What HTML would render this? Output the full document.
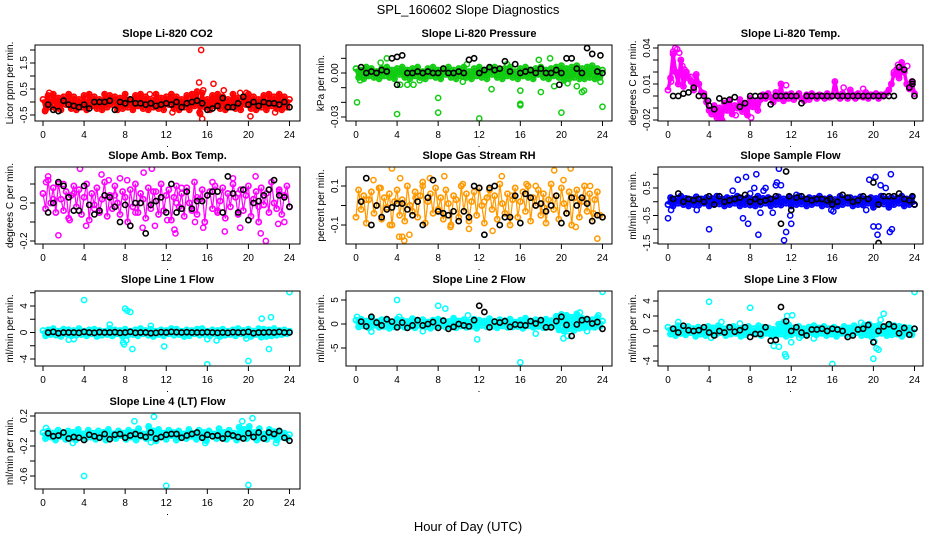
<!DOCTYPE html>
<html><head><meta charset="utf-8">
<style>
html,body{margin:0;padding:0;background:#fff;}
svg{display:block;font-family:"Liberation Sans",Arial,sans-serif;}
</style></head>
<body>
<svg id="chart" width="936" height="540" viewBox="0 0 936 540" xmlns="http://www.w3.org/2000/svg">
<rect x="0" y="0" width="936" height="540" fill="#fff"/>
<text x="468" y="14" text-anchor="middle" font-size="13">SPL_160602  Slope Diagnostics</text>
<text x="468" y="531" text-anchor="middle" font-size="13">Hour of Day (UTC)</text>
</svg>
<script>
// ---- data (hours 0..24) ----
const xTicks = [0,4,8,12,16,20,24];

const p1Color = [0.1,-0.3,0.25,-0.2,0.3,-0.25,0.15,-0.3,0.2,-0.1,0.3,-0.25,0.2,-0.3,0.1,-0.2,0.25,-0.3,0.3,-0.15,0.2,-0.25,0.1,-0.3,0.3,-0.2,0.25,-0.1,0.2,-0.3,0.15,-0.25,0.3,-0.2,0.1,-0.3,0.25,-0.15,0.3,-0.25,0.2,-0.3,0.1,-0.2,0.3,-0.25,0.15,-0.3,0.2,-0.1,0.3,-0.25,0.2,-0.3,0.1,-0.2,0.25,-0.3,0.3,-0.15,0.4,-0.4,0.35,-0.2,0.1,-0.3,0.25,-0.15,0.3,-0.25,0.2,-0.3,0.1,-0.2,0.3,-0.25,0.15,-0.3,0.2,-0.1,0.3,-0.25,0.2,-0.3,0.1,-0.2,0.25,-0.3,0.3,-0.15,0.2,-0.25,0.3,-0.3,0.2,-0.2,0.1];
const p1OutH = [15.4,15.2,16.6,15.6,17.6,20.2,15.5,15.3,12.6,22.6,0.2,19.8,0.6,10.4,19.2];
const p1OutV = [2.0,0.75,0.7,0.45,0.45,-0.55,-0.65,-0.45,-0.4,-0.4,-0.35,0.35,0.35,0.3,0.35];
const p1Black = [-0.1,-0.3,-0.35,0.05,-0.1,-0.15,-0.2,-0.1,-0.25,0.0,0.0,0.0,0.05,-0.3,0.0,-0.05,0.1,-0.05,-0.05,-0.1,-0.05,-0.15,-0.1,-0.05,-0.1,0.0,-0.2,-0.05,0.0,0.05,-0.05,-0.3,-0.25,-0.15,0.15,-0.2,-0.2,-0.05,0.2,-0.1,0.0,-0.15,0.0,-0.05,-0.05,-0.1,0.0,-0.2];

const p2Color = [0.003,-0.003,0.002,-0.004,0.004,-0.002,0.003,-0.003,0.001,-0.004,0.003,-0.002,0.004,-0.003,0.002,-0.004,0.003,-0.001,0.004,-0.003,0.002,-0.004,0.003,-0.002,0.004,-0.003,0.001,-0.004,0.003,-0.002,0.004,-0.003,0.002,-0.004,0.003,-0.001,0.004,-0.003,0.002,-0.004,0.003,-0.002,0.004,-0.003,0.001,-0.004,0.003,-0.002,0.004,-0.003,0.002,-0.004,0.003,-0.001,0.004,-0.003,0.002,-0.004,0.003,-0.002,0.004,-0.003,0.001,-0.004,0.003,-0.002,0.004,-0.003,0.002,-0.004,0.003,-0.001,0.004,-0.003,0.002,-0.004,0.003,-0.002,0.004,-0.003,0.005,-0.005,0.003,-0.004,0.004,-0.003,0.005,-0.004,0.003,-0.004,0.004,-0.003,0.005,-0.004,0.003,-0.003,0.002];
const p2OutH = [0.1,4,8,8,12,16,16,20,24,13.2,16,18,17.8,22,22.2,21.5,3,4.3,5,5.6,23.8,2.4,10.8,14.7,18.9,19.3,20.6,0.4,6.2,10.4];
const p2OutV = [-0.02,-0.028,-0.017,-0.027,-0.031,-0.021,-0.022,-0.027,-0.023,-0.011,-0.012,-0.013,0.009,-0.013,-0.012,-0.009,0.01,-0.008,-0.008,-0.008,-0.006,0.007,0.006,0.006,0.01,-0.009,-0.007,-0.005,-0.005,-0.006];
const p2Black = [0.004,0.0,0.001,0.0,0.002,0.001,0.01,0.011,0.012,0.0,0.0,0.001,0.0,0.001,0.0,0.0,0.003,0.0,0.0,0.001,0.0,0.009,0.01,0.0,0.002,0.004,0.002,0.003,0.008,0.001,0.006,0.0,0.001,0.002,0.0,0.003,0.0,0.0,0.002,0.0,0.01,0.01,0.003,0.0,0.017,0.013,0.001,0.0];
const p2BlackExH = [4,19.8,23.8];
const p2BlackExV = [-0.008,-0.008,0.012];

const p3Color = [0.005,0.015,0.035,0.02,0.01,0.03,0.008,0.02,0.015,0.012,0.005,0.018,0.01,0.003,0.002,-0.005,-0.012,-0.015,-0.008,-0.018,-0.01,-0.02,-0.006,-0.012,-0.004,-0.015,-0.008,-0.01,-0.003,-0.013,-0.006,-0.016,-0.002,-0.009,-0.004,-0.012,-0.003,0.001,-0.002,0.002,-0.001,-0.005,0.003,-0.002,0.01,-0.004,0.001,-0.002,0.002,-0.003,0.0,0.002,-0.002,-0.004,0.001,-0.003,0.002,0.0,-0.002,0.001,0.0,-0.002,0.002,-0.001,0.0,0.012,0.001,-0.002,0.002,0.0,-0.002,0.005,0.001,-0.002,0.002,0.0,-0.001,0.003,-0.002,0.001,0.0,0.002,-0.002,0.001,0.0,0.002,0.005,0.01,0.018,0.022,0.015,0.028,0.02,0.01,0.006,0.012,0.002];
const p3OutH = [0.7,0.9,1.1,0.5,1.4,1.6,1.8,0.3,2.2,4.6,5.1,5.3,6.6,7.7,8.1,11.5,17.1,19.0,22.4,22.0,23.3,22.5];
const p3OutV = [0.04,0.039,0.036,0.037,0.025,0.022,0.02,0.012,0.016,-0.015,-0.019,-0.021,-0.016,-0.015,-0.018,0.009,0.007,0.006,0.026,0.02,0.025,0.018];
const p3Black = [0,0,0.002,0.003,0.007,0,0,-0.008,-0.011,-0.002,-0.004,-0.003,-0.001,-0.009,-0.006,0,0,0,0,-0.007,0,0,0,0,0,-0.006,0,0,0,0,0,0,0,0,0,0,0,0,0,0,0,0,0,0,0.024,0.022,0.007,0.0];
const p3BlackExH = [23.8,23.8,3.9];
const p3BlackExV = [0.01,0.012,-0.004];

const p4Color = [0.05,-0.03,0.12,0.0,0.08,-0.05,0.1,0.02,-0.04,0.06,-0.08,0.04,0.09,-0.02,0.07,-0.06,0.03,0.1,-0.09,0.05,-0.01,0.08,-0.05,0.02,0.11,-0.07,0.04,-0.03,0.09,0.0,-0.06,0.06,0.03,-0.1,0.07,-0.02,0.1,-0.05,0.05,0.02,-0.08,0.08,-0.03,0.06,0.01,-0.06,0.1,-0.04,0.04,0.07,-0.09,0.03,0.09,-0.02,0.05,-0.07,0.08,0.0,-0.04,0.11,-0.06,0.02,0.07,-0.1,0.04,0.06,-0.03,0.09,-0.05,0.01,0.08,-0.08,0.05,-0.02,0.1,0.03,-0.06,0.07,-0.04,0.04,0.09,-0.07,0.02,0.06,-0.1,0.08,-0.01,0.05,-0.05,0.11,0.0,-0.03,0.07,-0.06,0.04,0.09,-0.02];
const p4OutH = [0.5,1.5,2.6,3.6,4.2,5.7,7.5,9.7,9.8,10.6,10.9,12.1,12.9,12.8,14.8,15.6,17.7,19.2,20.7,21.2,21.7,22.9,0.3,23.5,6.4,8.2,16.5,18.5,2.0,13.5,1.0,3.0,5.0,7.0,9.0,11.0,13.0,15.0,17.0,19.0,21.0,23.0];
const p4OutV = [0.14,-0.17,-0.09,0.18,-0.12,0.15,0.13,-0.13,0.16,0.18,-0.12,-0.09,-0.16,-0.14,-0.1,-0.13,-0.15,-0.13,0.14,-0.16,-0.2,-0.11,0.11,-0.1,0.12,0.12,0.11,0.13,0.1,0.08,0.02,0.05,-0.03,0.04,-0.05,0.06,0.0,0.03,-0.04,0.05,-0.02,0.06];
const p4Black = [-0.05,0.0,0.11,0.09,0.03,-0.04,-0.04,0.09,-0.01,-0.06,-0.04,0.04,0.03,-0.02,-0.1,-0.01,-0.12,0.0,0.0,-0.16,-0.01,0.01,0.03,-0.05,0.1,-0.05,-0.03,0.06,-0.03,0.01,0.01,0.04,0.06,0.06,-0.05,0.14,0.05,-0.05,0.07,-0.09,0.0,0.01,0.04,0.07,0.12,0.04,0.03,-0.02];

const p5Color = [-0.06,0.08,-0.02,0.05,-0.09,0.03,0.07,-0.04,0.0,0.09,-0.07,0.04,-0.01,0.06,-0.1,0.02,0.08,-0.05,0.03,-0.08,0.1,0.0,-0.03,0.07,-0.06,0.05,0.12,-0.09,0.02,0.06,-0.04,0.09,-0.02,0.04,-0.07,0.08,0.01,-0.1,0.05,0.03,-0.06,0.1,-0.03,0.06,-0.08,0.02,0.07,-0.05,0.09,0.0,-0.09,0.04,0.08,-0.02,0.05,-0.07,0.11,0.01,-0.04,0.06,-0.1,0.03,0.09,-0.06,0.02,0.07,-0.03,0.1,-0.08,0.04,0.0,0.08,-0.05,0.06,-0.09,0.03,0.11,-0.02,0.05,-0.07,0.09,0.01,-0.04,0.07,-0.1,0.04,0.08,-0.06,0.02,0.1,-0.03,0.06,-0.08,0.03,0.07,-0.05,-0.06];
const p5OutH = [3.5,4.2,4.3,4.5,4.7,5.2,1.7,3.3,7.2,8.6,9.2,14.2,13.3,19.3,20.9,21.4,23.5,10.4,16.6,20.2,2.4,6.5,11.0,17.5,22.8,1.0,3.0,5.8,8.0,12.5,15.2,18.3,21.8,23.1];
const p5OutV = [0.19,-0.16,0.14,-0.16,-0.18,-0.15,0.13,-0.1,0.14,0.15,-0.11,0.15,-0.13,0.18,0.19,-0.11,-0.17,0.11,0.11,0.13,0.09,0.1,-0.12,0.1,0.1,0.03,-0.02,0.04,-0.03,0.02,0.05,-0.01,0.03,-0.04];
const p5Black = [0.02,0.14,-0.1,0.0,-0.06,-0.02,-0.01,0.01,0.01,-0.02,-0.05,0.02,-0.1,0.04,0.13,-0.03,-0.04,-0.05,-0.03,-0.08,-0.03,-0.06,0.1,0.09,-0.15,0.09,0.1,-0.1,-0.06,-0.06,0.05,-0.09,0.06,0.04,0.0,0.01,-0.03,0.0,0.05,-0.09,-0.04,0.04,0.0,0.04,0.01,-0.08,-0.05,-0.06];

const p6Color = [-0.1,0.15,-0.15,0.1,-0.05,0.2,-0.1,0.12,-0.15,0.08,-0.1,0.18,-0.12,0.1,-0.05,0.15,-0.15,0.12,-0.1,0.2,-0.08,0.1,-0.15,0.15,-0.1,0.12,-0.05,0.2,-0.15,0.1,-0.1,0.15,-0.12,0.08,-0.15,0.2,-0.1,0.12,-0.05,0.15,-0.15,0.1,-0.1,0.18,-0.12,0.1,-0.05,0.15,-0.15,0.12,-0.1,0.2,-0.08,0.1,-0.15,0.15,-0.1,0.12,-0.05,0.2,-0.15,0.1,-0.1,0.15,-0.12,0.08,-0.15,0.2,-0.1,0.12,-0.05,0.15,-0.15,0.1,-0.1,0.18,-0.12,0.1,-0.05,0.15,-0.2,0.12,-0.1,0.2,-0.08,0.1,-0.2,0.15,-0.1,0.12,-0.05,0.2,-0.15,0.1,-0.1,0.15,-0.1];
const p6OutH = [0,0.3,2.0,2.8,4,6.3,6.8,7.3,7.6,7.8,8.4,8.6,8.8,9.5,10.2,10.5,10.8,11.0,10.6,11.3,11.5,11.9,12.0,19.6,20.0,20.2,20.4,20.5,20.7,21.2,21.6,21.8,21.7,8.0,9.3,9.0,12.5,15.9,16.1,19.3];
const p6OutV = [-0.6,-0.3,0.1,-0.3,-1.0,0.4,0.8,-0.6,0.9,-0.8,0.5,1.0,-1.2,0.5,-0.4,0.6,1.2,0.6,0.7,-1.4,-1.1,-0.5,-0.8,0.8,-0.9,0.9,-1.2,-0.9,0.6,0.5,-1.1,-1.0,1.0,0.3,0.4,-0.4,0.25,-0.3,-0.35,-0.3];
const p6Black = [0.1,0.3,0.0,0.1,0.05,0.1,0.0,0.2,-0.1,0.2,0.0,0.05,0.1,0.15,0.25,0.0,0.1,0.0,0.05,0.1,0.2,-0.8,1.1,-0.3,0.15,0.2,0.1,0.05,0.1,0.1,0.05,-0.1,0.0,0.25,0.15,0.0,0.05,0.2,0.1,0.7,-0.1,0.2,0.2,0.2,0.3,0.1,0.05,-0.1];
const p6BlackExH = [20.5,11.8,15.8,23.8];
const p6BlackExV = [-1.5,0.2,0.1,0.2];

const p7Color = [0.3,-0.5,0.4,-0.3,0.6,-0.4,0.2,-0.6,0.5,-0.2,0.4,-0.5,0.3,-0.4,0.6,-0.3,0.2,-0.5,0.4,-0.2,0.5,-0.6,0.3,-0.4,0.2,-0.3,0.6,-0.5,0.4,-0.2,0.3,-0.6,0.5,-0.4,0.2,-0.3,0.4,-0.5,0.6,-0.2,0.3,-0.4,0.5,-0.6,0.2,-0.3,0.4,-0.5,0.3,-0.2,0.6,-0.4,0.5,-0.3,0.2,-0.6,0.4,-0.5,0.3,-0.2,0.5,-0.4,0.6,-0.3,0.2,-0.5,0.4,-0.2,0.3,-0.6,0.5,-0.4,0.2,-0.3,0.4,-0.5,0.6,-0.2,0.3,-0.4,0.5,-0.6,0.2,-0.3,0.6,-0.7,0.5,-0.6,0.4,-0.5,0.6,-0.4,0.3,-0.3,0.4,-0.2,0.2];
const p7OutH = [4,8,8.2,8.5,8.7,7.8,7.9,8.1,11.8,16,20,21.3,22,22.2,24,6.5,10.5,2.5,3.0,16.0,16.9,19.8];
const p7OutV = [4.9,3.6,3.3,3.1,-2.5,-1.5,-1.8,-1.2,-2.1,-4.8,-4.3,2.1,-2.5,2.3,6.1,1.2,1.0,-1.1,-1.0,-1.0,-1.2,-0.9];
const p7Black = [0.0,0.1,-0.1,0.0,0.0,0.0,-0.05,0.1,0.0,-0.05,0.05,0.0,0.0,0.05,-0.05,0.0,0.1,-0.05,0.0,0.0,-0.1,-0.05,0.05,0.0,0.1,0.05,0.0,0.05,0.0,0.0,0.0,0.05,0.0,-0.05,0.0,-0.05,0.05,0.0,0.0,0.1,-0.1,0.0,0.0,0.05,0.0,0.1,0.0,0.0];

const p8Color = [0.8,-0.6,1.0,-0.4,0.6,-0.8,1.2,-0.3,0.5,-0.7,0.9,-0.5,0.7,-0.9,0.4,-0.6,1.0,-0.4,0.8,-0.7,0.5,-0.5,1.1,-0.8,0.6,-0.3,0.9,-0.6,0.4,-0.9,0.8,-0.5,1.0,-0.4,0.7,-0.7,0.5,-0.6,1.2,-0.8,0.6,-0.4,0.9,-0.7,0.4,-0.5,1.0,-0.9,0.8,-0.3,0.6,-0.6,1.1,-0.5,0.5,-0.8,0.9,-0.4,0.7,-0.7,1.0,-0.6,0.4,-0.5,0.8,-0.9,1.2,-0.4,0.6,-0.7,0.9,-0.5,0.5,-0.8,1.0,-0.6,0.7,-0.4,1.6,-1.2,2.0,-1.5,1.8,-1.0,1.4,-1.3,2.1,-0.9,1.2,-0.8,1.0,-0.6,0.9,-0.7,1.4,-0.5,0.6];
const p8OutH = [4,8,8.7,11.8,16,17.5,20.2,20.6,24,0.1,4.2,1.5,6.5,10.9,21.8,22.5,23.6];
const p8OutV = [5,3.8,3.2,-3.2,-8,-2,-3,-2.5,6.7,1.5,1.5,-1.6,-1.5,1.8,2.4,-1.5,1.8];
const p8Black = [0.5,-0.5,1.5,0.3,-0.3,1.0,0.5,-0.7,0.3,-0.8,-0.3,0.8,-0.3,0.0,0.4,-0.8,0.7,-1.0,-0.6,0.0,-0.3,-0.5,0.8,3.8,2.5,-0.7,0.5,0.3,0.6,-0.6,-0.1,-0.2,-0.3,0.6,0.1,0.8,-0.7,-0.7,0.6,1.5,-0.2,-2.5,-0.1,0.8,1.0,0.1,0.4,-1.0];

const p9Color = [0.5,-0.4,0.3,-0.6,0.7,-0.3,0.4,-0.5,0.6,-0.2,0.3,-0.7,0.5,-0.4,0.2,-0.6,0.6,-0.3,0.4,-0.5,0.7,-0.2,0.3,-0.6,0.5,-0.4,0.6,-0.3,0.2,-0.7,0.4,-0.5,0.6,-0.2,0.3,-0.4,0.7,-0.6,0.5,-0.3,0.4,-0.5,0.2,-0.6,0.9,-0.4,1.2,-0.7,0.8,-0.5,0.4,-0.3,0.6,-0.6,0.3,-0.4,0.5,-0.2,0.7,-0.5,0.4,-0.3,0.6,-0.6,0.3,-0.4,0.5,-0.7,0.2,-0.3,0.6,-0.5,0.4,-0.4,0.7,-0.2,0.3,-0.6,0.8,-0.5,0.9,-0.8,0.6,-0.4,0.8,-0.3,0.5,-0.6,0.9,-0.5,0.7,-0.4,0.6,-0.7,0.5,-0.3,0.4,-0.5,0.3];
const p9OutH = [4,8,11.6,11.4,11.5,12,12.1,10.3,10.8,20,20.1,20.3,20.5,20.7,21,24,16,4.2,1.0,5.2,7.0,12.8,14.2,18.8];
const p9OutV = [3.9,3.1,2.0,-3.1,-3.4,-1.5,2.1,-2.0,-2.1,-3.7,-1.4,-2.3,-2.5,1.5,2.3,5.2,-4.4,-0.9,1.2,1.2,1.0,-0.9,-1.0,1.1];
const p9Black = [0.3,-0.2,0.7,0.1,0.0,0.1,0.5,-0.2,-0.6,0.0,-0.2,0.5,-0.1,0.1,0.5,-0.8,-0.4,-0.4,0.5,-1.3,-1.2,3.2,1.3,0.0,0.5,-0.2,-0.6,0.2,0.2,0.3,0.0,0.3,0.2,0.0,-0.8,-0.6,0.2,0.3,0.8,-1.5,0.0,0.6,0.9,0.6,-0.3,0.4,-0.5,0.3];

const p10Color = [-0.02,-0.1,0.0,-0.08,-0.03,-0.12,0.01,-0.07,-0.04,-0.11,0.0,-0.09,-0.02,-0.12,0.02,-0.06,-0.04,-0.1,0.01,-0.08,-0.03,-0.11,0.0,-0.07,-0.02,-0.12,0.02,-0.09,-0.04,-0.1,0.0,-0.06,-0.03,-0.11,0.01,-0.08,-0.02,-0.12,0.03,-0.07,-0.04,-0.1,0.06,-0.09,0.0,-0.13,0.02,-0.08,-0.03,-0.11,0.01,-0.06,-0.02,-0.12,0.0,-0.09,-0.04,-0.1,0.02,-0.07,-0.03,-0.11,0.01,-0.08,-0.02,-0.13,0.0,-0.06,-0.04,-0.1,0.03,-0.09,-0.02,-0.11,0.01,-0.07,-0.03,-0.12,0.05,-0.08,0.02,-0.1,0.06,-0.06,-0.02,-0.12,0.03,-0.09,-0.04,-0.11,0.02,-0.07,-0.01,-0.12,0.0,-0.08,-0.03,-0.1,-0.05];
const p10OutH = [4,12,20,10.8,20.4,2.9,10.5,19.4,0.3,8.9,15.8,22.7];
const p10OutV = [-0.6,-0.73,-0.72,0.19,0.17,-0.16,-0.15,0.13,0.04,0.13,-0.16,-0.16];
const p10Black = [-0.03,-0.07,-0.06,-0.02,-0.1,-0.08,-0.09,-0.12,-0.05,-0.07,-0.09,-0.04,-0.11,-0.05,-0.04,-0.09,-0.06,-0.04,-0.06,-0.08,-0.02,-0.1,-0.08,-0.05,-0.04,-0.04,-0.09,-0.06,-0.04,-0.02,-0.09,-0.05,-0.07,-0.06,-0.1,-0.04,-0.06,-0.08,-0.1,-0.03,-0.08,-0.02,-0.1,-0.02,-0.04,0.0,-0.09,-0.13];

// ---- layout (pixels) ----
const cols = [{l:35,r:300,x0:43},{l:346,r:612,x0:356},{l:658,r:923,x0:668}];
const rows = [{t:45,b:121},{t:167,b:244},{t:291,b:366},{t:413,b:489}];
const HPX = 10.27;

const panels = [
 {name:'co2',title:'Slope Li-820 CO2',ylab:'Licor ppm per min.',c:0,r:0,col:'#ff0000',bw:3.5,ref:[-0.5,115,1.5,63],ticks:[-0.5,0,0.5,1,1.5,2],labels:['-0.5','0.5','1.5'],labelVals:[-0.5,0.5,1.5],color:p1Color,oh:p1OutH,ov:p1OutV,black:p1Black},
 {name:'pressure',title:'Slope Li-820 Pressure',ylab:'kPa per min.',c:1,r:0,col:'#11cc11',bw:3.5,ref:[0,73,-0.03,117],ticks:[0.01,0,-0.01,-0.02,-0.03],labels:['0.00','-0.03'],labelVals:[0,-0.03],color:p2Color,oh:p2OutH,ov:p2OutV,black:p2Black,bh:p2BlackExH,bv:p2BlackExV},
 {name:'temp',title:'Slope Li-820 Temp.',ylab:'degrees C per min.',c:2,r:0,col:'#ff00ff',bw:3.5,ref:[0.04,48,-0.02,120],ticks:[0.04,0.03,0.02,0.01,0,-0.01,-0.02],labels:['0.04','0.01','-0.02'],labelVals:[0.04,0.01,-0.02],color:p3Color,oh:p3OutH,ov:p3OutV,black:p3Black,bh:p3BlackExH,bv:p3BlackExV},
 {name:'amb-box-temp',title:'Slope Amb. Box Temp.',ylab:'degrees C per min.',c:0,r:1,col:'#ff00ff',bw:1.2,ref:[0,203,-0.2,241],ticks:[-0.2,-0.1,0,0.1],labels:['-0.2','0.0'],labelVals:[-0.2,0],color:p4Color,oh:p4OutH,ov:p4OutV,black:p4Black},
 {name:'gas-stream-rh',title:'Slope Gas Stream RH',ylab:'percent per min.',c:1,r:1,col:'#ff9900',bw:1.2,ref:[0.1,186,-0.1,225],ticks:[-0.1,0,0.1],labels:['0.1','-0.1'],labelVals:[0.1,-0.1],color:p5Color,oh:p5OutH,ov:p5OutV,black:p5Black},
 {name:'sample-flow',title:'Slope Sample Flow',ylab:'ml/min per min.',c:2,r:1,col:'#0000ff',bw:3.5,ref:[0.5,188,-1.5,243],ticks:[1,0.5,0,-0.5,-1,-1.5],labels:['0.5','-0.5','-1.5'],labelVals:[0.5,-0.5,-1.5],color:p6Color,oh:p6OutH,ov:p6OutV,black:p6Black,bh:p6BlackExH,bv:p6BlackExV},
 {name:'line1-flow',title:'Slope Line 1 Flow',ylab:'ml/min per min.',c:0,r:2,col:'#00ffff',bw:3.5,ref:[4,306,-4,359],ticks:[-4,-2,0,2,4,6],labels:['-4','0','4'],labelVals:[-4,0,4],color:p7Color,oh:p7OutH,ov:p7OutV,black:p7Black},
 {name:'line2-flow',title:'Slope Line 2 Flow',ylab:'ml/min per min.',c:1,r:2,col:'#00ffff',bw:3.5,ref:[5,300,-5,348],ticks:[5,0,-5],labels:['5','0','-5'],labelVals:[5,0,-5],color:p8Color,oh:p8OutH,ov:p8OutV,black:p8Black},
 {name:'line3-flow',title:'Slope Line 3 Flow',ylab:'ml/min per min.',c:2,r:2,col:'#00ffff',bw:3.5,ref:[4,301,-4,361],ticks:[4,2,0,-2,-4],labels:['4','2','0','-4'],labelVals:[4,2,0,-4],color:p9Color,oh:p9OutH,ov:p9OutV,black:p9Black},
 {name:'line4-flow',title:'Slope Line 4 (LT) Flow',ylab:'ml/min per min.',c:0,r:3,col:'#00ffff',bw:3.5,ref:[0.2,416,-0.6,476],ticks:[0.2,0,-0.2,-0.4,-0.6],labels:['0.2','-0.2','-0.6'],labelVals:[0.2,-0.2,-0.6],color:p10Color,oh:p10OutH,ov:p10OutV,black:p10Black}
];

const svg = document.getElementById('chart');
const NS = 'http://www.w3.org/2000/svg';
function mk(tag, attrs, parent){
  const e = document.createElementNS(NS, tag);
  for (const k in attrs) e.setAttribute(k, attrs[k]);
  (parent||svg).appendChild(e);
  return e;
}

panels.forEach(p => {
  const C = cols[p.c], R = rows[p.r];
  const g = mk('g', {});
  
  
  const xs = h => C.x0 + h * HPX;
  const ys = v => p.ref[1] + (v - p.ref[0]) * (p.ref[3] - p.ref[1]) / (p.ref[2] - p.ref[0]);

  const t = mk('text', {x:(C.l+C.r)/2, y:R.t-8, 'text-anchor':'middle', 'font-size':'11', 'font-weight':'bold'}, g);
  t.textContent = p.title;
  
  

  const yc = (R.t+R.b)/2;
  const yl = mk('text', {x:0, y:0, transform:`translate(${C.l-22},${yc}) rotate(-90)`, 'text-anchor':'middle', 'font-size':'10'}, g);
  yl.textContent = p.ylab;
  
  

  const clipId = 'clip-' + p.name;
  const cp = mk('clipPath', {id:clipId}, g);
  mk('rect', {x:C.l, y:R.t, width:C.r-C.l, height:R.b-R.t}, cp);
  const pts = mk('g', {'clip-path':`url(#${clipId})`, fill:'none'}, g);
  
  

  const n = p.color.length;
  const band = mk('polyline', {points:p.color.map((v,i)=>xs(i*24/(n-1)).toFixed(1)+','+ys(v).toFixed(1)).join(' '), stroke:p.col, 'stroke-width':p.bw, fill:'none', 'stroke-linejoin':'round'}, pts);
  
  
  p.color.forEach((v,i) => {
    const c = mk('circle', {cx:xs(i*24/(n-1)), cy:ys(v), r:2.6, stroke:p.col, 'stroke-width':1.7}, pts);
    
    
  });
  p.oh.forEach((h,i) => {
    const c = mk('circle', {cx:xs(h), cy:ys(p.ov[i]), r:2.6, stroke:p.col, 'stroke-width':1.5}, pts);
    
    
  });
  p.black.forEach((v,i) => {
    const c = mk('circle', {cx:xs(0.5*(i+1)), cy:ys(v), r:2.6, stroke:'#000', 'stroke-width':1.6}, pts);
    
    
  });
  if (p.bh) p.bh.forEach((h,i) => {
    const c = mk('circle', {cx:xs(h), cy:ys(p.bv[i]), r:2.6, stroke:'#000', 'stroke-width':1.6}, pts);
    
    
  });

  const box = mk('rect', {x:C.l, y:R.t, width:C.r-C.l, height:R.b-R.t, fill:'none', stroke:'#000', 'stroke-width':1}, g);
  
  

  const xa = mk('g', {stroke:'#000', 'stroke-width':1}, g);
  
  
  xTicks.forEach(h => {
    mk('line', {x1:xs(h), x2:xs(h), y1:R.b, y2:R.b+5}, xa);
    const tl = mk('text', {x:xs(h), y:R.b+17, 'text-anchor':'middle', 'font-size':'10', stroke:'none', fill:'#000'}, g);
    tl.textContent = h;
    
    
  });
  mk('rect', {x:(C.l+C.r)/2-0.5, y:R.b+25, width:1, height:1, fill:'#000'}, g);

  const ya = mk('g', {stroke:'#000', 'stroke-width':1}, g);
  
  
  p.ticks.forEach(v => {
    mk('line', {x1:C.l-5, x2:C.l, y1:ys(v), y2:ys(v)}, ya);
  });
  p.labels.forEach((lab,i) => {
    const yy = ys(p.labelVals[i]);
    const tl = mk('text', {x:0, y:0, transform:`translate(${C.l-8},${yy}) rotate(-90)`, 'text-anchor':'middle', 'font-size':'10'}, g);
    tl.textContent = lab;
    
    
  });
});
</script>
</body></html>
